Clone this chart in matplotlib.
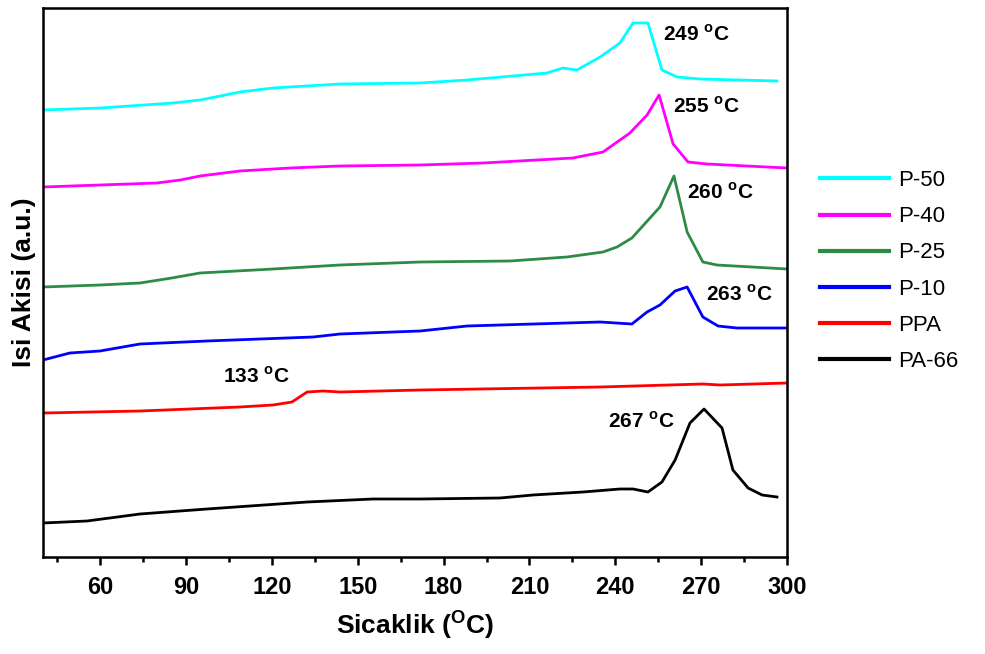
import matplotlib
matplotlib.use("Agg")
import matplotlib.pyplot as plt

plt.rcParams['font.family'] = ['Liberation Sans', 'DejaVu Sans']
plt.rcParams['mathtext.fontset'] = 'custom'
plt.rcParams['mathtext.rm'] = 'Liberation Sans'
plt.rcParams['mathtext.bf'] = 'Liberation Sans:bold'

# ---- data (temperature in C, heat flow in arbitrary units) ----
t_p50 = [40, 60, 85.4, 94.9, 102, 108.8, 120.4, 143.8, 171.8, 188.2, 216.1, 221.7, 226.6, 234.7, 241.6, 246.2, 251.4, 256.3, 261.6, 269.6, 296.5]
v_p50 = [447, 449, 454, 457, 461, 465, 469, 473, 474, 477, 484, 489, 487, 500, 514, 534, 534, 487, 480, 478, 476]

t_p40 = [40, 60, 79.8, 88, 94.9, 108.8, 126.3, 143.8, 171.8, 193.8, 225.2, 235.7, 245.1, 251.1, 255.3, 260.2, 265.4, 272.0, 300]
v_p40 = [370, 372, 374, 377, 381, 386, 389, 391, 392, 394, 399, 405, 424, 442, 462, 413, 395, 393, 389]

t_p25 = [40, 60, 73.9, 85, 94.9, 120.4, 143.8, 171.8, 203.2, 223.1, 235.7, 240.6, 245.8, 255.6, 260.5, 265.1, 270.6, 275.5, 300]
v_p25 = [270, 272, 274, 279, 284, 288, 292, 295, 296, 300, 305, 310, 319, 350, 381, 325, 295, 292, 288]

t_p10 = [40, 49.4, 59.9, 73.9, 97.3, 134.4, 143.8, 171.8, 188.2, 234.7, 245.8, 251.1, 255.6, 260.9, 265.1, 270.6, 275.9, 282.5, 300]
v_p10 = [197, 204, 206, 213, 216, 220, 223, 226, 231, 235, 233, 245, 252, 266, 270, 240, 231, 229, 229]

t_ppa = [40, 73.9, 108.8, 120.4, 127.0, 132.3, 137.9, 143.8, 171.8, 234.7, 270.6, 276.6, 300]
v_ppa = [144, 146, 150, 152, 155, 165, 166, 165, 167, 170, 173, 172, 174]

t_pa66 = [40, 55.4, 73.9, 97.3, 132.3, 155.3, 171.8, 199.7, 211.2, 228.7, 241.6, 246.2, 251.4, 256.3, 260.9, 266.1, 271.0, 277.3, 281.1, 286.4, 291.3, 296.5]
v_pa66 = [34, 36, 43, 48, 55, 58, 58, 59, 62, 65, 68, 68, 65, 75, 97, 134, 148, 129, 87, 69, 62, 60]

series_names = ['P-50', 'P-40', 'P-25', 'P-10', 'PPA', 'PA-66']
series_colors = ['#00FFFF', '#FF00FF', '#2E8B45', '#0000FF', '#FF0000', '#000000']

peak_labels = ['249 $^{\\mathbf{o}}$C', '255 $^{\\mathbf{o}}$C', '260 $^{\\mathbf{o}}$C',
               '263 $^{\\mathbf{o}}$C', '133 $^{\\mathbf{o}}$C', '267 $^{\\mathbf{o}}$C']
peak_label_t = [256.7, 260.2, 265.1, 271.7, 102.9, 237.4]
peak_label_v = [523, 451, 365, 263, 181, 136]

x_ticks = [60, 90, 120, 150, 180, 210, 240, 270, 300]

# ---- figure ----
fig = plt.figure(figsize=(9.85, 6.54), dpi=100)
ax = fig.add_axes([43/985, 1-557/654, (787-43)/985, (557-8)/654])

data = [(t_p50, v_p50), (t_p40, v_p40), (t_p25, v_p25), (t_p10, v_p10), (t_ppa, v_ppa), (t_pa66, v_pa66)]
for (t, v), name, col in zip(data, series_names, series_colors):
    ax.plot(t, v, color=col, lw=2.0, label=name, solid_joinstyle='round')

for lab, tx, vy in zip(peak_labels, peak_label_t, peak_label_v):
    ax.text(tx, vy, lab, fontsize=15, fontweight='bold', ha='left', va='center')

ax.set_xlim(40, 300)
ax.set_ylim(0, 549)
ax.set_xticks(x_ticks)
ax.set_xticks([45 + 30*i for i in range(9)], minor=True)
ax.set_yticks([])
ax.tick_params(axis='x', which='major', direction='out', length=6, width=1.8, labelsize=17, pad=8)
ax.tick_params(axis='x', which='minor', direction='out', length=3.5, width=1.8)
ax.tick_params(axis='x', top=False)
for lab in ax.get_xticklabels():
    lab.set_fontweight('bold')
for sp in ax.spines.values():
    sp.set_linewidth(1.8)

ax.set_xlabel('Sicaklik ($^{\\mathbf{O}}$C)', fontsize=19, fontweight='bold', labelpad=6)
ax.set_ylabel('Isi Akisi (a.u.)', fontsize=19, fontweight='bold', labelpad=5)

leg = ax.legend(loc='center left', bbox_to_anchor=(820/985, 1-271/654), bbox_transform=fig.transFigure,
                frameon=False, fontsize=16, handlelength=3.1, handletextpad=0.4,
                labelspacing=0.68, borderpad=0, borderaxespad=0)
for line in leg.get_lines():
    line.set_linewidth(3)

fig.savefig('out.png', dpi=100)
